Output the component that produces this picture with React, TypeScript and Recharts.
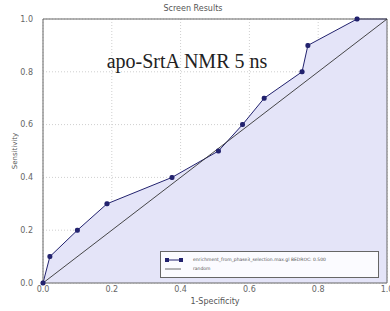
import React from "react";
import {
  ComposedChart,
  Area,
  Line,
  XAxis,
  YAxis,
  CartesianGrid,
  ReferenceArea,
} from "recharts";

const fpr = [0.0, 0.02, 0.1, 0.186, 0.375, 0.51, 0.58, 0.643, 0.753, 0.77, 0.913, 1.0];
const tpr = [0.0, 0.1, 0.2, 0.3, 0.4, 0.5, 0.6, 0.7, 0.8, 0.9, 1.0, 1.0];
const randomX = [0, 1];
const randomY = [0, 1];
const ticks = [0, 0.2, 0.4, 0.6, 0.8, 1.0];
const legendLabels = [
  "enrichment_from_phase3_selection.max.gl BEDROC: 0.500",
  "random",
];

const rocData = fpr.map((x, i) => ({ x, roc: tpr[i] }));
const randData = randomX.map((x, i) => ({ x, rand: randomY[i] }));

const NAVY = "#22226e";

const RocDot = (props: any) => {
  const { cx, cy, index } = props;
  if (index === fpr.length - 1) return <g key={`d${index}`} />;
  return <rect key={`d${index}`} x={cx - 2.5} y={cy - 2.5} width={5} height={5} rx={2} fill={NAVY} />;
};

const LegendBox = () => (
  <div
    style={{
      position: "absolute",
      left: 160,
      top: 251,
      width: 219,
      height: 27,
      border: "1px solid #666",
      background: "#fbfbff",
      fontFamily: "DejaVu Sans, sans-serif",
      fontSize: 4.5,
      color: "#555",
      boxSizing: "border-box",
      padding: "3px 4px",
    }}
  >
    <div style={{ display: "flex", alignItems: "center", height: 9 }}>
      <svg width={18} height={6}>
        <line x1={2} y1={3} x2={16} y2={3} stroke={NAVY} strokeWidth={1} />
        <rect x={0} y={1} width={4} height={4} fill={NAVY} />
        <rect x={14} y={1} width={4} height={4} fill={NAVY} />
      </svg>
      <span style={{ marginLeft: 10 }}>{legendLabels[0]}</span>
    </div>
    <div style={{ display: "flex", alignItems: "center", height: 9 }}>
      <svg width={18} height={6}>
        <line x1={0} y1={3} x2={16} y2={3} stroke="#444" strokeWidth={0.8} />
      </svg>
      <span style={{ marginLeft: 10 }}>{legendLabels[1]}</span>
    </div>
  </div>
);

export default function App() {
  return (
    <div style={{ position: "absolute", left: 0, top: 0, width: 390, height: 311, background: "#fff" }}>
      <ComposedChart
        width={390}
        height={311}
        margin={{ top: 19, right: 3, bottom: 0, left: 0 }}
      >
        <CartesianGrid stroke="#cfcfcf" strokeDasharray="1 2" />
        <XAxis
          type="number"
          dataKey="x"
          domain={[0, 1]}
          ticks={ticks}
          tickFormatter={(v: number) => v.toFixed(1)}
          tickLine={false}
          axisLine={false}
          height={28}
          tick={{ fontSize: 8, fill: "#666", fontFamily: "DejaVu Sans, sans-serif", dy: -3 }}
          tickMargin={0}
          interval={0}
          label={{
            value: "1-Specificity",
            position: "insideBottom",
            offset: 7,
            style: { fontSize: 8, fill: "#555", fontFamily: "DejaVu Sans, sans-serif" },
          }}
        />
        <YAxis
          type="number"
          domain={[0, 1]}
          ticks={ticks}
          tickFormatter={(v: number) => v.toFixed(1)}
          tickLine={false}
          axisLine={false}
          width={43}
          tickMargin={4}
          interval={0}
          tick={{ fontSize: 8, fill: "#666", fontFamily: "DejaVu Sans, sans-serif" }}
          label={{
            value: "Sensitivity",
            angle: -90,
            position: "insideLeft",
            offset: 15,
            style: { fontSize: 7, fill: "#555", fontFamily: "DejaVu Sans, sans-serif", textAnchor: "middle" },
          }}
        />
        <Area
          data={rocData}
          dataKey="roc"
          type="linear"
          fill="#e4e4f8"
          fillOpacity={1}
          stroke={NAVY}
          strokeWidth={1}
          dot={<RocDot />}
          activeDot={false}
          isAnimationActive={false}
        />
        <Line
          data={randData}
          dataKey="rand"
          type="linear"
          stroke="#333"
          strokeWidth={0.9}
          dot={false}
          activeDot={false}
          isAnimationActive={false}
        />
        <ReferenceArea x1={0} x2={1} y1={0} y2={1} fill="none" stroke="#666" strokeWidth={1} ifOverflow="visible" />
        <text x={193} y={11} textAnchor="middle" fontSize={8} fill="#555" fontFamily="DejaVu Sans, sans-serif">
          Screen Results
        </text>
        <text x={187} y={68} textAnchor="middle" fontSize={20} fill="#222" fontFamily="Liberation Serif, serif">
          apo-SrtA NMR 5 ns
        </text>
        <text x={276} y={172} textAnchor="middle" fontSize={18} fill="#222" fontFamily="Liberation Serif, serif">
          AUC = 0.51
        </text>
      </ComposedChart>
      <LegendBox />
    </div>
  );
}
